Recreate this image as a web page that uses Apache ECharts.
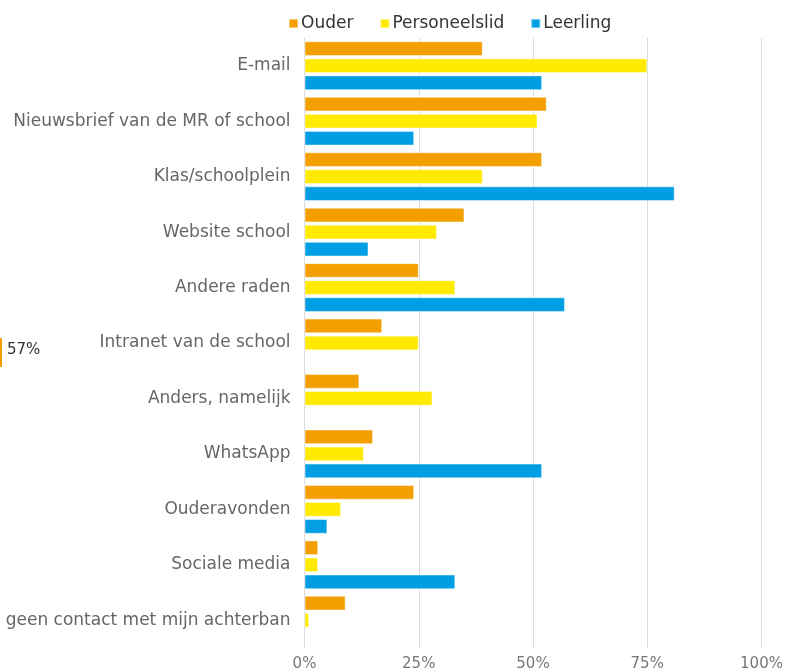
<!DOCTYPE html>
<html>
<head>
<meta charset="utf-8">
<script src="https://cdn.jsdelivr.net/npm/echarts@6/dist/echarts.min.js"></script>
<style>
  html, body { margin: 0; padding: 0; background: #fff; }
  #chart { width: 796px; height: 672px; }
</style>
</head>
<body>
<div id="chart"></div>
<script>
// categories, top to bottom
const categories = [
  'E-mail',
  'Nieuwsbrief van de MR of school',
  'Klas/schoolplein',
  'Website school',
  'Andere raden',
  'Intranet van de school',
  'Anders, namelijk',
  'WhatsApp',
  'Ouderavonden',
  'Sociale media',
  'geen contact met mijn achterban'
]
// percentages per group
const ouder = [39, 53, 52, 35, 25, 17, 12, 15, 24, 3, 9]
const personeelslid = [75, 51, 39, 29, 33, 25, 28, 13, 8, 3, 1]
const leerling = [52, 24, 81, 14, 57, '-', '-', 52, 5, 33, '-']
const xTicks = [0, 25, 50, 75, 100]

const fontFamily = '"DejaVu Sans", "Noto Sans", sans-serif'

const chart = echarts.init(document.getElementById('chart'))

function barSeries (name, data, color) {
  return {
    name: name,
    type: 'bar',
    data: data,
    barGap: '16%',
    barCategoryGap: '12%',
    itemStyle: {
      color: color,
      borderColor: 'rgba(255,255,255,0.45)',
      borderWidth: 1
    }
  }
}

chart.setOption({
  animation: false,
  textStyle: { fontFamily: fontFamily },
  legend: {
    top: 10,
    left: 283,
    itemWidth: 9,
    itemHeight: 9,
    itemGap: 26,
    icon: 'rect',
    textStyle: { fontSize: 17, color: '#333', fontFamily: fontFamily, padding: [0, 0, 0, -2] },
    data: ['Ouder', 'Personeelslid', 'Leerling']
  },
  grid: {
    left: 304.5,
    right: 34.5,
    top: 38,
    bottom: 22
  },
  xAxis: {
    type: 'value',
    min: xTicks[0],
    max: xTicks[xTicks.length - 1],
    interval: 25,
    axisLine: { show: false },
    axisTick: { show: false },
    axisLabel: {
      fontSize: 15,
      color: '#777',
      margin: 9,
      formatter: v => v + '%'
    },
    splitLine: { lineStyle: { color: '#dcdcdc', width: 1 } }
  },
  yAxis: {
    type: 'category',
    inverse: true,
    data: categories,
    axisLine: { show: false },
    axisTick: { show: false },
    axisLabel: { fontSize: 17, color: '#666', margin: 14 }
  },
  series: [
    barSeries('Ouder', ouder, '#f49f00'),
    barSeries('Personeelslid', personeelslid, '#ffea00'),
    barSeries('Leerling', leerling, '#009fe3')
  ],
  graphic: [
    {
      type: 'rect',
      left: 0,
      top: 338,
      shape: { width: 2, height: 29 },
      style: { fill: '#f49f00' }
    },
    {
      type: 'text',
      left: 7,
      top: 343,
      style: { text: '57%', fontSize: 15, fill: '#333', fontFamily: fontFamily }
    }
  ]
})
</script>
</body>
</html>
